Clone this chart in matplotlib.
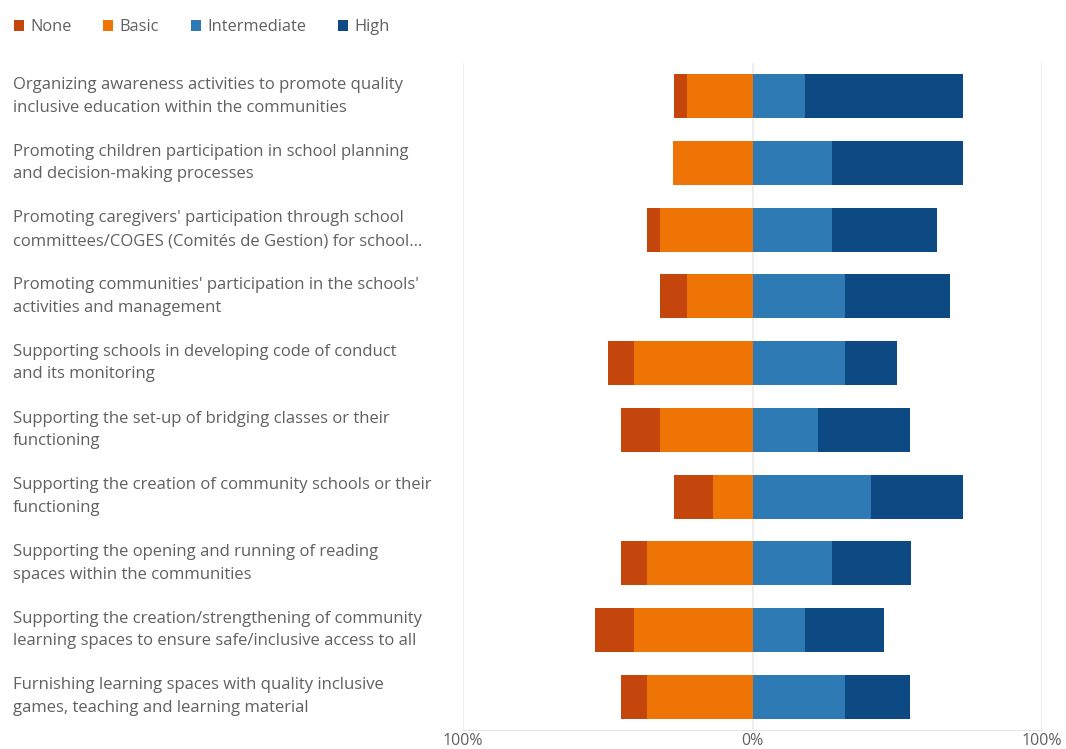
import matplotlib
matplotlib.use("Agg")
import matplotlib.pyplot as plt
import numpy as np
from matplotlib.patches import Patch
from matplotlib.transforms import blended_transform_factory

categories = [
    "Organizing awareness activities to promote quality\ninclusive education within the communities",
    "Promoting children participation in school planning\nand decision-making processes",
    "Promoting caregivers' participation through school\ncommittees/COGES (Comités de Gestion) for school…",
    "Promoting communities' participation in the schools'\nactivities and management",
    "Supporting schools in developing code of conduct\nand its monitoring",
    "Supporting the set-up of bridging classes or their\nfunctioning",
    "Supporting the creation of community schools or their\nfunctioning",
    "Supporting the opening and running of reading\nspaces within the communities",
    "Supporting the creation/strengthening of community\nlearning spaces to ensure safe/inclusive access to all",
    "Furnishing learning spaces with quality inclusive\ngames, teaching and learning material",
]

series_names = ["None", "Basic", "Intermediate", "High"]
none_pct = [4.5, 0.0, 4.5, 9.1, 9.1, 13.6, 13.6, 9.1, 13.6, 9.1]
basic_pct = [22.7, 27.3, 31.8, 22.7, 40.9, 31.8, 13.6, 36.4, 40.9, 36.4]
intermediate_pct = [18.2, 27.3, 27.3, 31.8, 31.8, 22.7, 40.9, 27.3, 18.2, 31.8]
high_pct = [54.5, 45.5, 36.4, 36.4, 18.2, 31.8, 31.8, 27.3, 27.3, 22.7]

x_ticks = [-100, 0, 100]
x_tick_labels = ["100%", "0%", "100%"]

colors = {"None": "#C4460D", "Basic": "#EE7405", "Intermediate": "#2D7AB4", "High": "#0D4A83"}
text_color = "#606060"

plt.rcParams["font.family"] = ["Open Sans", "DejaVu Sans"]

fig = plt.figure(figsize=(10.66, 7.49), dpi=100)
ax = fig.add_axes([463 / 1066, 1 - 730 / 749, (1042 - 463) / 1066, (730 - 63) / 749])

y = np.arange(len(categories))
none_a = np.array(none_pct)
basic_a = np.array(basic_pct)
inter_a = np.array(intermediate_pct)
high_a = np.array(high_pct)

h = 0.66
ax.barh(y, -basic_a, left=0, height=h, color=colors["Basic"], linewidth=0, zorder=3)
ax.barh(y, -none_a, left=-basic_a, height=h, color=colors["None"], linewidth=0, zorder=3)
ax.barh(y, inter_a, left=0, height=h, color=colors["Intermediate"], linewidth=0, zorder=3)
ax.barh(y, high_a, left=inter_a, height=h, color=colors["High"], linewidth=0, zorder=3)

ax.set_xlim(-100, 100)
ax.set_ylim(len(categories) - 0.5, -0.5)
ax.set_xticks(x_ticks)
ax.set_xticklabels(x_tick_labels, color=text_color, fontsize=11.5)
ax.tick_params(axis="x", length=0, pad=2)
ax.set_yticks([])
for s in ["top", "right", "left"]:
    ax.spines[s].set_visible(False)
ax.spines["bottom"].set_color("#E6E6E6")
ax.xaxis.grid(True, color="#EBEBEB", linewidth=1.2, zorder=0)
ax.set_axisbelow(True)

trans = blended_transform_factory(fig.transFigure, ax.transData)
for yi, label in zip(y, categories):
    ax.text(13 / 1066, yi, label, transform=trans, ha="left", va="center",
            fontsize=12, color=text_color, linespacing=1.55)

handles = [Patch(facecolor=colors[n], edgecolor="none", label=n) for n in series_names]
leg = fig.legend(handles=handles, loc="upper left", bbox_to_anchor=(-0.001, 0.994),
                 ncol=4, frameon=False, fontsize=11.8, handlelength=0.6, handleheight=0.6,
                 handletextpad=0.4, columnspacing=1.95)
for t in leg.get_texts():
    t.set_color(text_color)

fig.savefig("out.png", dpi=100)
